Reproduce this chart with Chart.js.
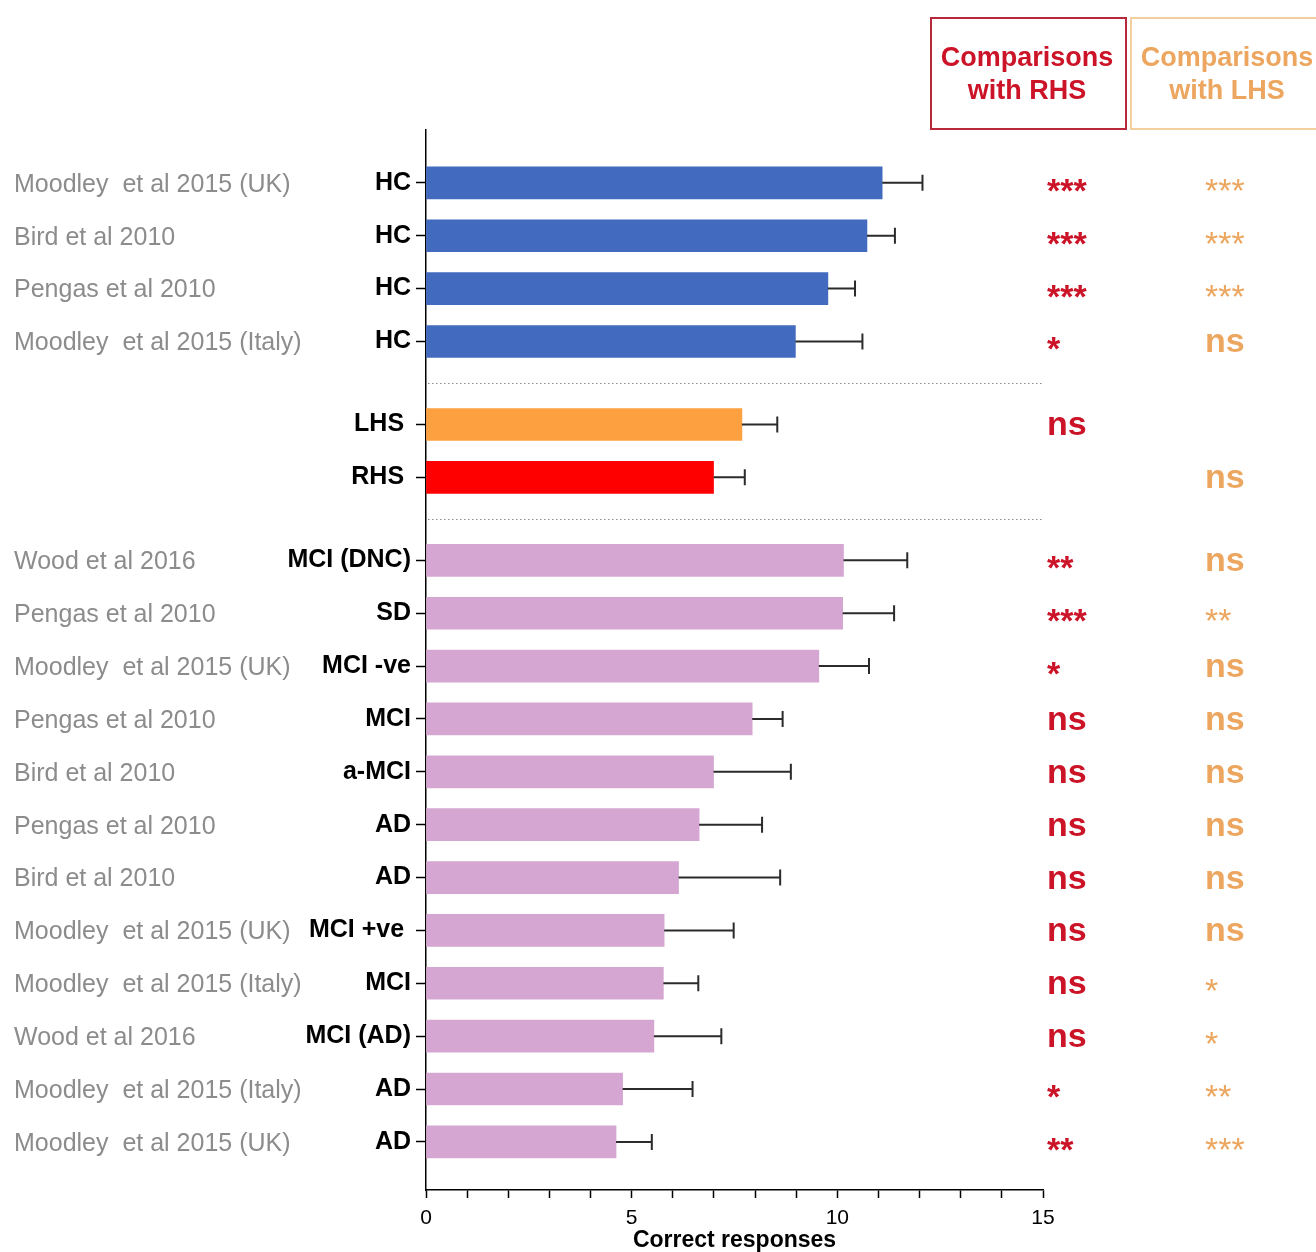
<!DOCTYPE html>
<html>
<head>
<meta charset="utf-8">
<title>Correct responses by group</title>
<script src="https://cdn.jsdelivr.net/npm/chart.js@4.4.1/dist/chart.umd.min.js"></script>
<style>
  html, body { margin: 0; padding: 0; background: #fff; }
  canvas { display: block; }
</style>
</head>
<body>
<canvas id="chart" width="1316" height="1252"></canvas>
<script>
const STUDIES = [
    "Moodley  et al 2015 (UK)", "Bird et al 2010", "Pengas et al 2010", "Moodley  et al 2015 (Italy)",
    "", "",
    "Wood et al 2016", "Pengas et al 2010", "Moodley  et al 2015 (UK)", "Pengas et al 2010",
    "Bird et al 2010", "Pengas et al 2010", "Bird et al 2010", "Moodley  et al 2015 (UK)",
    "Moodley  et al 2015 (Italy)", "Wood et al 2016", "Moodley  et al 2015 (Italy)", "Moodley  et al 2015 (UK)",
];
// trailing spaces kept as in the original labels
const GROUPS = [
    "HC", "HC", "HC", "HC",
    "LHS ", "RHS ",
    "MCI (DNC)", "SD", "MCI -ve", "MCI", "a-MCI", "AD", "AD", "MCI +ve ", "MCI", "MCI (AD)", "AD", "AD",
];
// 0 = controls, 1 = hemisphere patients, 2 = other patient groups
const SECTIONS = [0, 0, 0, 0, 1, 1, 2, 2, 2, 2, 2, 2, 2, 2, 2, 2, 2, 2];
const MEANS = [11.09, 10.72, 9.77, 8.98, 7.68, 6.99, 10.15, 10.13, 9.55, 7.93, 6.99, 6.64, 6.14, 5.79, 5.77, 5.54, 4.78, 4.62];
const ERRORS = [0.98, 0.68, 0.66, 1.63, 0.86, 0.76, 1.55, 1.25, 1.22, 0.74, 1.88, 1.53, 2.47, 1.69, 0.85, 1.64, 1.70, 0.87];
const VS_RHS = ["***", "***", "***", "*", "ns", "", "**", "***", "*", "ns", "ns", "ns", "ns", "ns", "ns", "ns", "*", "**"];
const VS_LHS = ["***", "***", "***", "ns", "", "ns", "ns", "**", "ns", "ns", "ns", "ns", "ns", "ns", "*", "*", "**", "***"];
const X_TICKS = [0, 5, 10, 15];

const FONT = '"Liberation Sans", Arial, sans-serif';
const RED_TEXT = '#cc1428';
const ORANGE_TEXT = '#eca65f';
const GROUP_GAP = 0.57; // extra space between sections, in rows

const positions = SECTIONS.map((s, i) => i + s * GROUP_GAP);
const barColors = GROUPS.map((g, i) => {
    if (SECTIONS[i] === 0) return '#426abe';
    if (g.trim() === 'LHS') return '#fda040';
    if (g.trim() === 'RHS') return '#fe0000';
    return '#d6a6d2';
});

function drawStars(ctx, text, x, y, color, bold) {
    ctx.fillStyle = color;
    if (text === 'ns') {
        ctx.font = `bold 34px ${FONT}`;
        ctx.fillText(text, x, y + 11);
    } else if (text) {
        ctx.font = `${bold ? 'bold ' : ''}34px ${FONT}`;
        ctx.fillText(text, x, y + 19);
    }
}

const annotations = {
    id: 'annotations',
    afterDatasetsDraw(chart) {
        const {ctx, chartArea, scales: {x, y}} = chart;
        ctx.save();

        // upper error bars
        ctx.strokeStyle = '#2b2b2b';
        ctx.lineWidth = 2;
        MEANS.forEach((m, i) => {
            const py = y.getPixelForValue(positions[i]);
            const x0 = x.getPixelForValue(m);
            const x1 = x.getPixelForValue(m + ERRORS[i]);
            ctx.beginPath();
            ctx.moveTo(x0, py);
            ctx.lineTo(x1, py);
            ctx.moveTo(x1, py - 8);
            ctx.lineTo(x1, py + 8);
            ctx.stroke();
        });

        // dotted lines between sections
        ctx.strokeStyle = '#8a8a8a';
        ctx.lineWidth = 1;
        ctx.setLineDash([1.5, 2.5]);
        for (let i = 1; i < SECTIONS.length; i++) {
            if (SECTIONS[i] === SECTIONS[i - 1]) continue;
            const py = Math.round(y.getPixelForValue((positions[i] + positions[i - 1]) / 2)) + 0.5;
            ctx.beginPath();
            ctx.moveTo(chartArea.left + 2, py);
            ctx.lineTo(chartArea.right, py);
            ctx.stroke();
        }
        ctx.restore();
    },
    afterDraw(chart) {
        const {ctx, chartArea, scales: {y}} = chart;
        ctx.save();

        // study names on the left
        ctx.font = `25px ${FONT}`;
        ctx.fillStyle = '#8c8c8c';
        ctx.textAlign = 'left';
        ctx.textBaseline = 'middle';
        STUDIES.forEach((s, i) => {
            if (s) ctx.fillText(s, 14, y.getPixelForValue(positions[i]) + 2);
        });

        // significance columns
        ctx.textBaseline = 'alphabetic';
        const rhsX = chartArea.right + 4;
        const lhsX = chartArea.right + 162;
        positions.forEach((p, i) => {
            const py = y.getPixelForValue(p);
            drawStars(ctx, VS_RHS[i], rhsX, py, RED_TEXT, true);
            drawStars(ctx, VS_LHS[i], lhsX, py, ORANGE_TEXT, false);
        });

        // column headers
        const headers = [
            {x: 931, w: 195, stroke: '#b8283a', color: RED_TEXT, lines: ['Comparisons', 'with RHS']},
            {x: 1131, w: 189, stroke: '#f1cf9e', color: ORANGE_TEXT, lines: ['Comparisons', 'with LHS']},
        ];
        headers.forEach(h => {
            ctx.strokeStyle = h.stroke;
            ctx.lineWidth = 2;
            ctx.strokeRect(h.x, 18, h.w, 111);
            ctx.fillStyle = h.color;
            ctx.font = `bold 27px ${FONT}`;
            ctx.textAlign = 'center';
            ctx.textBaseline = 'middle';
            const cx = h.x + 96;
            ctx.fillText(h.lines[0], cx, 59);
            ctx.fillText(h.lines[1], cx, 92);
        });
        ctx.restore();
    }
};

new Chart(document.getElementById('chart'), {
    type: 'bar',
    data: {
        datasets: [{
            data: MEANS.map((m, i) => ({x: m, y: positions[i]})),
            backgroundColor: barColors,
            borderWidth: 0,
            barThickness: 32,
        }]
    },
    options: {
        indexAxis: 'y',
        responsive: false,
        animation: false,
        events: [],
        layout: {padding: {top: 130, right: 273, left: 0, bottom: 0}},
        plugins: {legend: {display: false}, tooltip: {enabled: false}},
        scales: {
            x: {
                type: 'linear',
                min: 0,
                max: 15,
                afterFit(scale) { scale.height = 62; },
                ticks: {
                    stepSize: 1,
                    autoSkip: false,
                    maxRotation: 0,
                    padding: 8,
                    color: '#000',
                    font: {family: FONT, size: 21},
                    callback: v => X_TICKS.includes(v) ? String(v) : '',
                },
                grid: {drawOnChartArea: false, tickLength: 8, tickWidth: 1.5, tickColor: '#000'},
                border: {color: '#000', width: 1.5},
                title: {
                    display: true,
                    text: 'Correct responses',
                    color: '#000',
                    font: {family: FONT, size: 23, weight: 'bold', lineHeight: 1},
                    padding: {top: 0, bottom: 0},
                },
            },
            y: {
                type: 'linear',
                reverse: true,
                offset: false,
                min: -1,
                max: 19.05,
                afterFit(scale) { scale.width = 426; },
                afterBuildTicks(scale) {
                    scale.ticks = positions.map(v => ({value: v}));
                },
                ticks: {
                    padding: 5,
                    color: '#000',
                    font: {family: FONT, size: 25, weight: 'bold'},
                    callback: (v, i) => GROUPS[i],
                },
                grid: {offset: false, drawOnChartArea: false, tickLength: 10, tickWidth: 1.5, tickColor: '#000'},
                border: {color: '#000', width: 1.5},
            },
        },
    },
    plugins: [annotations],
});
</script>
</body>
</html>
